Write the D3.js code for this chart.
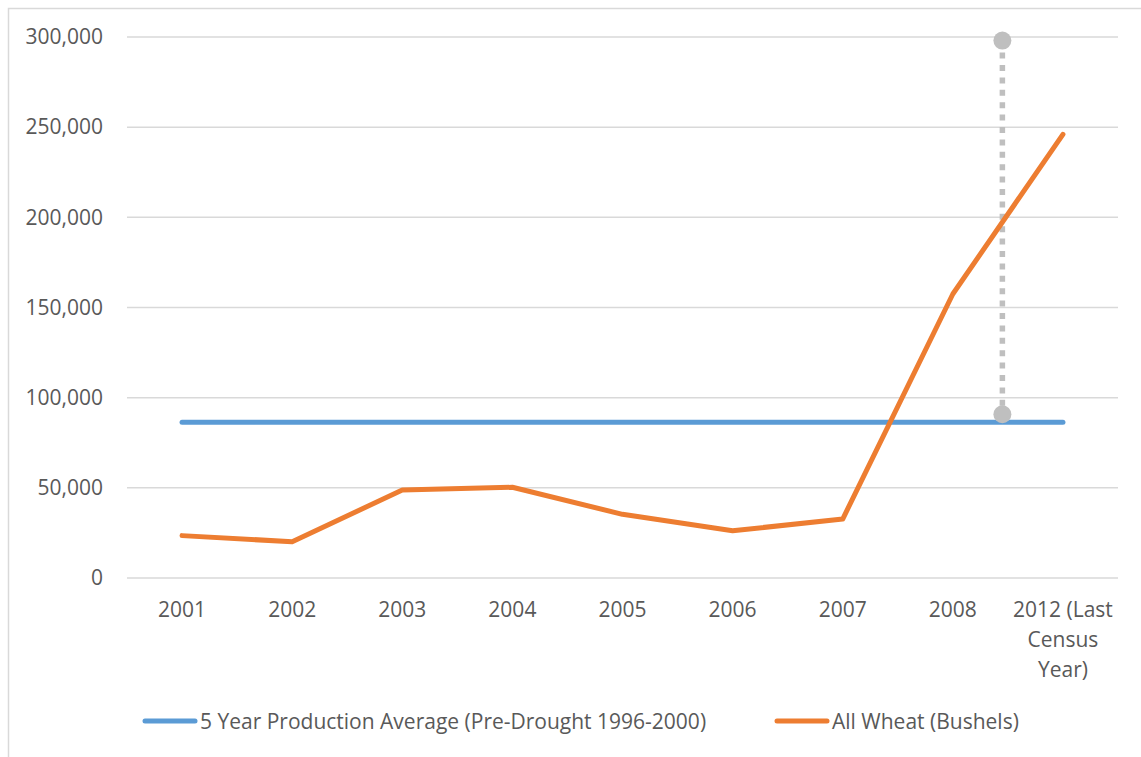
<!DOCTYPE html>
<html>
<head>
<meta charset="utf-8">
<script src="https://cdn.jsdelivr.net/npm/d3@7"></script>
<style>
  html, body { margin: 0; padding: 0; background: #fff; }
  svg { display: block; }
  text { font-family: "Open Sans", "Noto Sans", sans-serif; fill: #595959; }
</style>
</head>
<body>
<svg id="chart" width="1141" height="757"></svg>
<script>
// Wheat production by year vs. the pre-drought five-year average
const categories = ["2001", "2002", "2003", "2004", "2005", "2006", "2007", "2008", "2012 (Last Census Year)"];
const allWheat = [23500, 20100, 48800, 50300, 35300, 26200, 32700, 157500, 246000];
const fiveYearAverage = [86400, 86400, 86400, 86400, 86400, 86400, 86400, 86400, 86400];
const yTicks = [0, 50000, 100000, 150000, 200000, 250000, 300000];

// High/low range marker placed between 2008 and 2012
const rangePosition = 7.45;          // in category-index units
const rangeHigh = 298000;
const rangeLow = 90800;

const seriesNames = ["5 Year Production Average (Pre-Drought 1996-2000)", "All Wheat (Bushels)"];
const seriesColors = ["#5b9bd5", "#ed7d31"];

const svg = d3.select("#chart");

// chart frame
svg.append("rect")
  .attr("x", 8.5).attr("y", 8.5)
  .attr("width", 1145).attr("height", 765)
  .attr("fill", "none").attr("stroke", "#d9d9d9").attr("stroke-width", 1.5);

const plot = { left: 127, right: 1118, top: 37, bottom: 578 };

const x = d3.scaleBand().domain(categories).range([plot.left, plot.right]);
const xIndex = d3.scaleLinear()
  .domain([0, categories.length - 1])
  .range([x(categories[0]) + x.bandwidth() / 2, x(categories[categories.length - 1]) + x.bandwidth() / 2]);
const y = d3.scaleLinear().domain([0, 300000]).range([plot.bottom, plot.top]);

// horizontal gridlines
svg.append("g")
  .selectAll("line")
  .data(yTicks)
  .join("line")
  .attr("x1", plot.left).attr("x2", plot.right)
  .attr("y1", d => y(d)).attr("y2", d => y(d))
  .attr("stroke", "#d9d9d9").attr("stroke-width", 1.5);

// y axis labels
const yAxis = svg.append("g")
  .attr("transform", `translate(${plot.left},0)`)
  .call(d3.axisLeft(y).tickValues(yTicks).tickSize(0).tickPadding(24).tickFormat(d3.format(",")));
yAxis.select(".domain").remove();
yAxis.selectAll("text").style("font-size", "21px").attr("fill", "#595959");

// x axis labels, wrapped like the category "2012 (Last Census Year)"
const xLabels = svg.append("g");
const wrapped = {
  "2012 (Last Census Year)": ["2012 (Last", "Census", "Year)"]
};
categories.forEach(c => {
  const lines = wrapped[c] || [c];
  const t = xLabels.append("text")
    .attr("text-anchor", "middle")
    .attr("x", x(c) + x.bandwidth() / 2)
    .attr("y", 616.5)
    .style("font-size", "21px");
  lines.forEach((ln, i) => {
    t.append("tspan")
      .attr("x", x(c) + x.bandwidth() / 2)
      .attr("dy", i === 0 ? 0 : 30)
      .text(ln);
  });
});

const line = d3.line()
  .x((d, i) => x(categories[i]) + x.bandwidth() / 2)
  .y(d => y(d));

// high/low range marker
svg.append("line")
  .attr("x1", xIndex(rangePosition)).attr("x2", xIndex(rangePosition))
  .attr("y1", y(rangeHigh) + 12).attr("y2", y(rangeLow) - 8)
  .attr("stroke", "#bfbfbf").attr("stroke-width", 5.5)
  .attr("stroke-dasharray", "6,6.4");

// average line
svg.append("path")
  .datum(fiveYearAverage)
  .attr("d", line)
  .attr("fill", "none")
  .attr("stroke", seriesColors[0]).attr("stroke-width", 5)
  .attr("stroke-linecap", "round");

// wheat line
svg.append("path")
  .datum(allWheat)
  .attr("d", line)
  .attr("fill", "none")
  .attr("stroke", seriesColors[1]).attr("stroke-width", 5)
  .attr("stroke-linecap", "round").attr("stroke-linejoin", "round");

svg.append("g")
  .selectAll("circle")
  .data([rangeHigh, rangeLow])
  .join("circle")
  .attr("cx", xIndex(rangePosition))
  .attr("cy", d => y(d))
  .attr("r", 9)
  .attr("fill", "#bfbfbf");

// legend
const legendItems = [
  { name: seriesNames[0], color: seriesColors[0], x: 143 },
  { name: seriesNames[1], color: seriesColors[1], x: 775 }
];
const legend = svg.append("g");
legendItems.forEach(item => {
  legend.append("line")
    .attr("x1", item.x + 2).attr("x2", item.x + 52)
    .attr("y1", 721).attr("y2", 721)
    .attr("stroke", item.color).attr("stroke-width", 5)
    .attr("stroke-linecap", "round");
  legend.append("text")
    .attr("x", item.x + 57)
    .attr("y", 728.5)
    .style("font-size", "21px")
    .text(item.name);
});
</script>
</body>
</html>
